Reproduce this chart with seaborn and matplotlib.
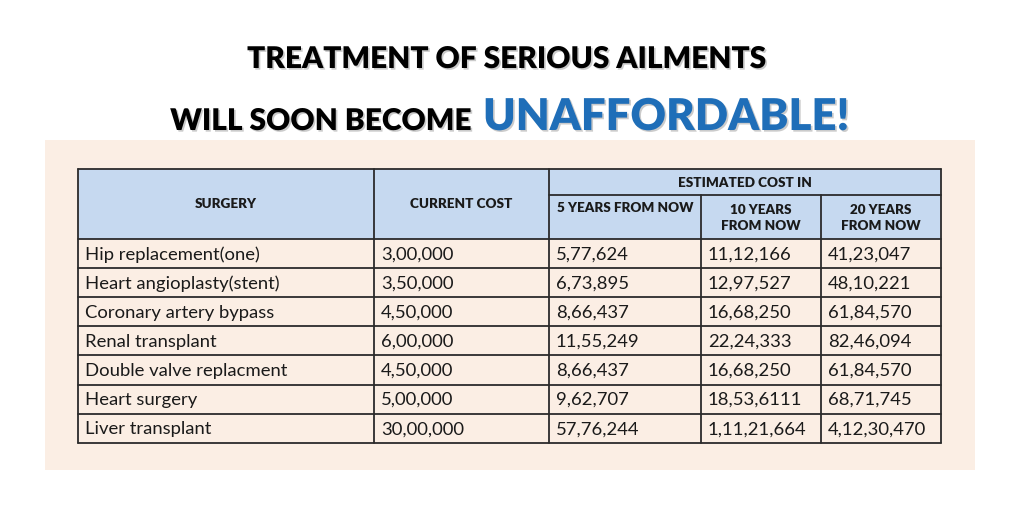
import matplotlib
matplotlib.use("Agg")
import matplotlib.pyplot as plt
import matplotlib.patheffects as pe
import seaborn as sns
from matplotlib.patches import Rectangle

# Table contents (as printed in the source)
surgery = ["Hip replacement(one)", "Heart angioplasty(stent)", "Coronary artery bypass",
           "Renal transplant", "Double valve replacment", "Heart surgery", "Liver transplant"]
current_cost = ["3,00,000", "3,50,000", "4,50,000", "6,00,000", "4,50,000", "5,00,000", "30,00,000"]
cost_5y = ["5,77,624", "6,73,895", "8,66,437", "11,55,249", "8,66,437", "9,62,707", "57,76,244"]
cost_10y = ["11,12,166", "12,97,527", "16,68,250", "22,24,333", "16,68,250", "18,53,6111", "1,11,21,664"]
cost_20y = ["41,23,047", "48,10,221", "61,84,570", "82,46,094", "61,84,570", "68,71,745", "4,12,30,470"]
headers = ["SURGERY", "CURRENT COST", "5 YEARS FROM NOW", "10 YEARS\nFROM NOW", "20 YEARS\nFROM NOW"]
group_header = "ESTIMATED COST IN"

# Layout (pixel coordinates)
col_edges = [78, 374, 549, 701, 821, 941]
top, mid, head_bottom = 169, 195, 239
row_h = 29.1
panel = (45, 140, 975, 470)

sns.set_theme(style="white")
plt.rcParams['font.family'] = ['Lato', 'DejaVu Sans']

bg_color = "#FBEEE4"
head_color = "#C6D9F0"
line_color = "#2b2b2b"

fig = plt.figure(figsize=(10.24, 5.21), dpi=100)
ax = fig.add_axes([0, 0, 1, 1])
ax.set_xlim(0, 1024)
ax.set_ylim(521, 0)
ax.axis("off")

# beige panel
ax.add_patch(Rectangle((panel[0], panel[1]), panel[2] - panel[0], panel[3] - panel[1],
                       facecolor=bg_color, edgecolor="none", zorder=0))

# header fills
ax.add_patch(Rectangle((col_edges[0], top), col_edges[-1] - col_edges[0], head_bottom - top,
                       facecolor=head_color, edgecolor="none", zorder=1))

lw = 1.3
columns = [surgery, current_cost, cost_5y, cost_10y, cost_20y]
n_rows = len(surgery)
bottom = head_bottom + n_rows * row_h

# horizontal lines
ax.plot([col_edges[0], col_edges[-1]], [top, top], color=line_color, lw=lw, zorder=3)
ax.plot([col_edges[2], col_edges[-1]], [mid, mid], color=line_color, lw=lw, zorder=3)
for i in range(n_rows + 1):
    y = head_bottom + i * row_h
    ax.plot([col_edges[0], col_edges[-1]], [y, y], color=line_color, lw=lw, zorder=3)

# vertical lines
for j, x in enumerate(col_edges):
    y0 = mid if j in (3, 4) else top
    ax.plot([x, x], [y0, bottom], color=line_color, lw=lw, zorder=3)

# header texts
hdr_kw = dict(fontsize=9.7, fontweight="heavy", color="#1a1a1a", ha="center", va="center",
              linespacing=1.4, zorder=4)
for j in range(2):
    ax.text((col_edges[j] + col_edges[j + 1]) / 2, (top + head_bottom) / 2, headers[j], **hdr_kw)
ax.text((col_edges[2] + col_edges[-1]) / 2, (top + mid) / 2 + 1, group_header, **hdr_kw)
ax.text((col_edges[2] + col_edges[3]) / 2, mid + 13, headers[2], **hdr_kw)
for j in (3, 4):
    ax.text((col_edges[j] + col_edges[j + 1]) / 2, (mid + head_bottom) / 2 + 1, headers[j], **hdr_kw)

# body texts
for j, col in enumerate(columns):
    for i, val in enumerate(col):
        ax.text(col_edges[j] + 7, head_bottom + (i + 0.5) * row_h + 1, val,
                fontsize=13.3, color="#1a1a1a", ha="left", va="center", zorder=4)

# title
shadow = [pe.withSimplePatchShadow(offset=(1.2, -1.2), shadow_rgbFace="#999999", alpha=0.5)]
ax.text(507, 68, "TREATMENT OF SERIOUS AILMENTS", fontsize=21.5, fontweight="heavy",
        color="black", ha="center", va="baseline", path_effects=shadow)
ax.text(472, 130, "WILL SOON BECOME", fontsize=21.5, fontweight="heavy",
        color="black", ha="right", va="baseline", path_effects=shadow)
ax.text(483, 130, "UNAFFORDABLE!", fontsize=31.5, fontweight="heavy",
        color="#1F6EB8", ha="left", va="baseline", path_effects=shadow)

fig.savefig("out.png", dpi=100, facecolor="white")
